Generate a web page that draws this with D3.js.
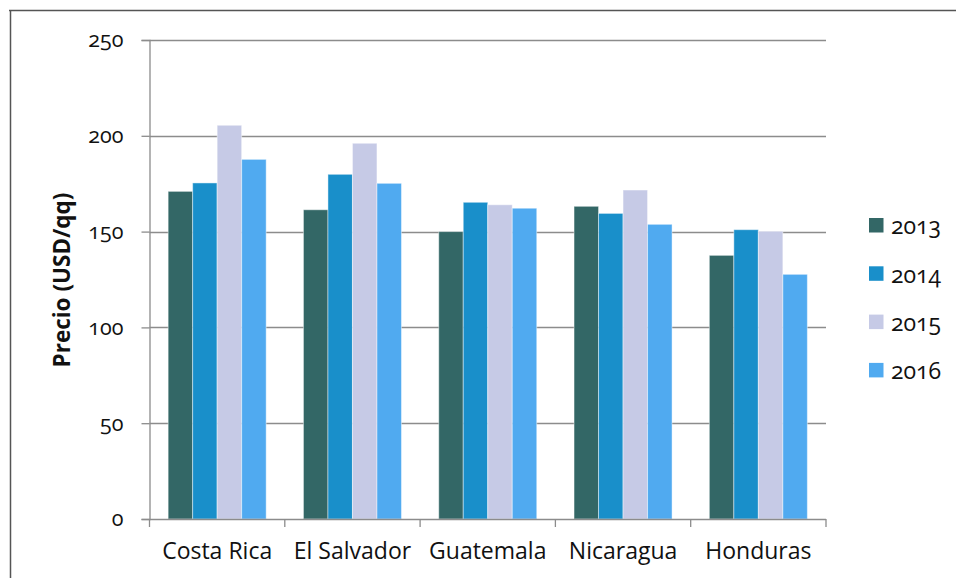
<!DOCTYPE html>
<html>
<head>
<meta charset="utf-8">
<script src="https://cdn.jsdelivr.net/npm/d3@7"></script>
<style>
  body { margin: 0; background: #fff; }
  svg text { font-family: "Open Sans", "Noto Sans", sans-serif; fill: #111; }
</style>
</head>
<body>
<svg id="chart" width="957" height="578"></svg>
<script>
const categories = ["Costa Rica", "El Salvador", "Guatemala", "Nicaragua", "Honduras"];
const years = ["2013", "2014", "2015", "2016"];
const v2013 = [171, 161.4, 150, 163.2, 137.6];
const v2014 = [175.4, 179.9, 165.3, 159.5, 151];
const v2015 = [205.5, 196.1, 164, 171.7, 150.2];
const v2016 = [187.7, 175.2, 162.2, 153.8, 127.7];
const seriesValues = [v2013, v2014, v2015, v2016];
const colors = ["#336766", "#198fca", "#c6cae6", "#50aaf0"];
const yTicks = [0, 50, 100, 150, 200, 250];
const yTitle = "Precio (USD/qq)";

(function () {
const svg = d3.select("#chart");
const pLeft = 149.5, pRight = 826, pTop = 40, pBottom = 519;

// frame
svg.append("line").attr("x1", 9).attr("x2", 956).attr("y1", 10.5).attr("y2", 10.5)
  .attr("stroke", "#555").attr("stroke-width", 1.5);
svg.append("line").attr("x1", 10.5).attr("x2", 10.5).attr("y1", 10).attr("y2", 578)
  .attr("stroke", "#555").attr("stroke-width", 1.5);

const x0 = d3.scaleBand().domain(categories).range([pLeft, pRight]).paddingInner(0.2755).paddingOuter(0.1378);
const x1 = d3.scaleBand().domain(years).range([0, x0.bandwidth()]);
const y = d3.scaleLinear().domain([0, 250]).range([pBottom, pTop]);

// gridlines
svg.append("g").selectAll("line").data(yTicks.filter(t => t > 0)).join("line")
  .attr("x1", pLeft).attr("x2", pRight)
  .attr("y1", d => Math.round(y(d)) + 0.5).attr("y2", d => Math.round(y(d)) + 0.5)
  .attr("stroke", "#8c8c8c").attr("stroke-width", 1.3);

// bars
const data = [];
categories.forEach((c, i) => years.forEach((yr, j) => data.push({c, yr, v: seriesValues[j][i], j})));
svg.append("g").selectAll("rect").data(data).join("rect")
  .attr("x", d => x0(d.c) + x1(d.yr))
  .attr("width", x1.bandwidth())
  .attr("y", d => y(d.v))
  .attr("height", d => y(0) - y(d.v))
  .attr("fill", d => colors[d.j])
  .attr("stroke", "rgba(255,255,255,0.45)")
  .attr("stroke-width", 1);

// y axis
const yAxis = d3.axisLeft(y).tickValues(yTicks).tickSize(8).tickPadding(18);
const gy = svg.append("g").attr("transform", `translate(${pLeft},0)`).call(yAxis);
gy.select(".domain").attr("stroke", "#8c8c8c").attr("stroke-width", 1.3);
gy.selectAll(".tick line").attr("stroke", "#8c8c8c").attr("stroke-width", 1.3);
gy.selectAll(".tick text").attr("font-size", 21.5).attr("fill", "#111")
  .style("font-family", "'Open Sans', sans-serif").style("font-variant-numeric", "oldstyle-nums");

// x axis
const xAxis = d3.axisBottom(x0).tickSize(0).tickPadding(24);
const gx = svg.append("g").attr("transform", `translate(0,${pBottom})`).call(xAxis);
gx.select(".domain").remove();
gx.selectAll(".tick text").attr("font-size", 23).attr("fill", "#111")
  .style("font-family", "'Open Sans', sans-serif");
// category separator ticks
const sepX = categories.map(c => x0(c) - x0.step() * x0.paddingOuter()).concat([pRight]);
svg.append("line").attr("x1", pLeft).attr("x2", pRight).attr("y1", pBottom + 0.5).attr("y2", pBottom + 0.5)
  .attr("stroke", "#8c8c8c").attr("stroke-width", 1.3);
svg.append("g").selectAll("line").data(sepX).join("line")
  .attr("x1", d => d).attr("x2", d => d).attr("y1", pBottom).attr("y2", pBottom + 8)
  .attr("stroke", "#8c8c8c").attr("stroke-width", 1.3);

// y title
svg.append("text").attr("transform", "translate(70,280) rotate(-90)")
  .attr("text-anchor", "middle").attr("font-size", 22.5).attr("font-weight", "bold")
  .text(yTitle);

// legend
const lg = svg.append("g").selectAll("g").data(years).join("g")
  .attr("transform", (d, i) => `translate(869,${218 + i * 48.3})`);
lg.append("rect").attr("width", 14.5).attr("height", 14.5).attr("fill", (d, i) => colors[i]);
lg.append("text").attr("x", 22).attr("y", 7.5).attr("dy", "0.38em")
  .attr("font-size", 23).style("font-variant-numeric", "oldstyle-nums").text(d => d);
})();
</script>
</body>
</html>
